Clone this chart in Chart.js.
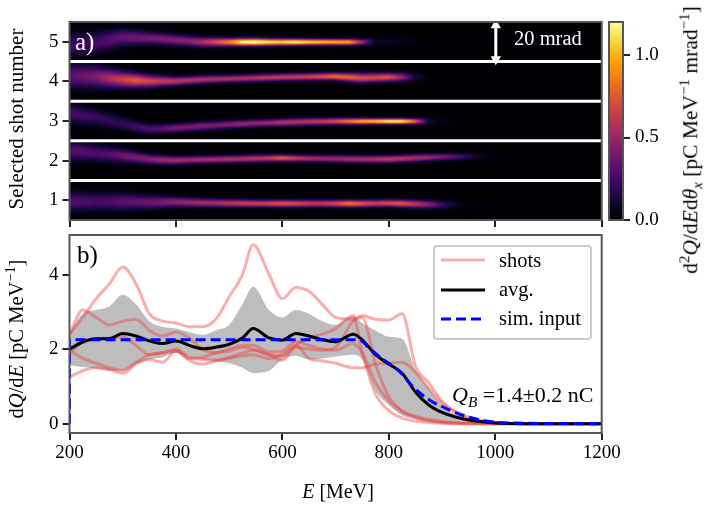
<!DOCTYPE html>
<html>
<head>
<meta charset="utf-8">
<script src="https://cdn.jsdelivr.net/npm/chart.js@4"></script>
<style>
  html, body { margin: 0; padding: 0; background: #fff; }
  #page { position: relative; width: 708px; height: 505px; overflow: hidden; font-family: "Liberation Serif", serif; color: #000; }
  canvas { position: absolute; left: 0; top: 0; }
  .txt { position: absolute; white-space: nowrap; font-size: 20.5px; line-height: 1; }
  .rot { transform: translate(-50%, -50%) rotate(-90deg); }
  sup, sub { font-size: 70%; line-height: 0; }
  #legend { position: absolute; left: 433px; top: 245px; width: 155px; height: 91px; border: 2px solid #ccc; border-radius: 4px; background: rgba(255,255,255,.8); }
  #legend svg { position: absolute; left: 0; top: 0; }
</style>
</head>
<body>
<div id="page">
  <canvas id="heat" width="708" height="505"></canvas>
  <canvas id="cbar" width="708" height="505"></canvas>
  <canvas id="lines" width="708" height="505"></canvas>

  <div class="txt rot" style="left:16px;top:119px;font-size:21px">Selected shot number</div>
  <div class="txt rot" style="left:16px;top:339px;font-size:20.5px">d<i>Q</i>/d<i>E</i> [pC MeV<sup>−1</sup>]</div>
  <div class="txt rot" style="left:691px;top:140px;font-size:21.5px">d<sup>2</sup><i>Q</i>/d<i>E</i>d<i>θ<sub>x</sub></i> [pC MeV<sup>−1</sup> mrad<sup>−1</sup>]</div>
  <div class="txt" style="left:338px;top:481px;transform:translateX(-50%);font-size:20px"><i>E</i> [MeV]</div>
  <div class="txt" style="left:75px;top:29px;font-size:25px;color:#fff">a)</div>
  <div class="txt" style="left:77px;top:242px;font-size:25px">b)</div>
  <div class="txt" style="left:514px;top:28px;font-size:20.5px;color:#fff">20 mrad</div>
  <div class="txt" style="left:452px;top:384px;font-size:22px"><i>Q<sub>B</sub></i> =1.4±0.2 nC</div>

  <div id="legend">
    <svg width="155" height="91">
      <line x1="6" y1="13" x2="50" y2="13" stroke="rgb(240,60,60)" stroke-opacity=".42" stroke-width="3"/>
      <line x1="6" y1="43" x2="50" y2="43" stroke="#000" stroke-width="3"/>
      <line x1="6" y1="72" x2="50" y2="72" stroke="#0000ff" stroke-width="3" stroke-dasharray="10 5"/>
    </svg>
    <div class="txt" style="left:64px;top:3px">shots</div>
    <div class="txt" style="left:64px;top:32px">avg.</div>
    <div class="txt" style="left:64px;top:61px">sim. input</div>
  </div>
</div>

<script>
// tick labels
const energyTicks = [200, 400, 600, 800, 1000, 1200];
const shotTicks = [1, 2, 3, 4, 5];
const chargeTicks = [0, 2, 4];
const cbarTicks = [0, 0.5, 1.0];
const separators = [1.5, 2.5, 3.5, 4.5];

// panel b: spectra
const qE = [200,225,250,275,300,325,350,375,400,425,450,475,500,525,545,575,600,625,650,675,700,733,750,775,800,825,850,875,900,925,950,975,1000,1100,1200];
const shot1 = [2.4,2.85,3.35,3.75,4.2,3.75,2.95,2.75,2.7,2.6,2.6,2.8,3.4,4.0,4.8,4.0,3.35,3.65,3.55,3.2,2.85,2.8,2.9,2.8,2.78,2.95,1.55,1.1,.6,.3,.13,.05,.02,0,0];
const shot2 = [2.4,3.05,2.85,2.65,2.75,2.8,2.5,2.35,2.45,2.3,2.0,1.9,1.95,2.05,2.0,1.85,1.7,2.1,2.3,2.4,2.55,2.9,1.9,.8,.35,.15,.07,.03,.01,0,0,0,0,0,0];
const shot3 = [1.25,1.42,1.5,1.45,1.35,1.6,1.72,1.65,1.95,1.7,1.6,1.68,1.75,1.82,1.85,1.75,1.85,2.1,1.75,1.68,1.62,1.5,1.5,1.6,1.62,1.65,1.38,.95,.55,.33,.18,.09,.04,0,0];
const shot4 = [1.97,1.75,1.62,1.5,1.43,1.65,1.85,1.9,2.0,1.78,1.72,1.7,1.78,1.9,1.97,1.85,1.82,2.05,2.0,1.97,2.05,2.75,2.85,1.6,.72,.35,.2,.12,.06,.03,.01,0,0,0,0];
const shot5 = [1.88,2.2,2.28,2.3,2.33,2.1,1.85,1.9,1.95,1.75,1.78,1.9,2.0,2.1,2.1,1.92,1.95,2.2,2.1,2.0,1.97,2.15,1.9,1.1,.6,.32,.17,.08,.03,.01,0,0,0,0,0];
const shotSeries = [shot1, shot2, shot3, shot4, shot5];
const avg = [2.0,2.19,2.28,2.28,2.42,2.35,2.22,2.15,2.22,2.1,2.01,2.05,2.13,2.3,2.55,2.3,2.24,2.42,2.35,2.25,2.2,2.4,2.25,1.85,1.6,1.35,.85,.5,.3,.18,.1,.05,.02,0,0];
const bandHigh = [2.42,2.95,3.05,3.15,3.46,3.2,2.75,2.6,2.55,2.45,2.38,2.5,2.65,3.2,3.67,3.05,2.85,3.05,2.95,2.75,2.65,2.88,2.7,2.5,2.33,2.28,1.45,.95,.5,.25,.13,.05,.02,0,0];
const bandLow = [1.57,1.52,1.48,1.42,1.42,1.6,1.72,1.78,1.9,1.78,1.72,1.68,1.62,1.5,1.36,1.42,1.72,1.82,1.72,1.75,1.8,1.85,1.72,.88,.5,.22,.12,.05,.02,0,0,0,0,0,0];
const simE = [200,200.01,745,760,783,821,846,877,909,940,975,1020,1200];
const simQ = [0,2.25,2.25,2.07,1.79,1.39,.98,.63,.4,.22,.09,.02,0];

// panel a: the bright ridge of each shot.
// peak is the colour value along the ridge, offset its height above the shot row, spread its half width
const peakE = [200,225,250,275,300,325,350,375,400,425,450,475,500,525,550,575,600,625,650,675,700,725,750,775,800,825,850,875,900,925,950,975,1000];
const shapeE = [200,250,300,350,400,450,500,550,600,650,700,750,800,850,900,950,1000];

const peak1 = [.3,.28,.25,.28,.32,.35,.38,.42,.48,.5,.55,.55,.6,.65,.65,.68,.75,.7,.65,.62,.7,.85,.75,.65,.72,.75,.62,.48,.25,.08,.03,.01,0];
const offset1 = [-.03,-.03,-.03,-.05,-.04,-.06,-.07,-.08,-.08,-.08,-.08,-.08,-.07,-.09,-.11,-.11,-.11];
const spread1 = [.16,.15,.14,.11,.08,.07,.065,.06,.06,.06,.06,.06,.06,.065,.065,.07,.07];

const peak2 = [.3,.3,.28,.3,.38,.42,.45,.52,.55,.52,.55,.55,.58,.55,.6,.62,.75,.65,.55,.52,.5,.55,.55,.58,.62,.6,.55,.5,.42,.32,.18,.07,.02];
const offset2 = [.26,.2,.13,.04,.01,.03,.04,.06,.07,.06,.05,.04,.04,.07,.1,.11,.12];
const spread2 = [.16,.14,.11,.08,.065,.06,.06,.06,.055,.055,.06,.06,.06,.06,.055,.055,.06];

const peak3 = [.25,.25,.22,.2,.2,.25,.28,.32,.42,.4,.42,.42,.45,.5,.48,.52,.58,.58,.6,.62,.7,.85,1.0,1.05,1.2,1.2,.8,.12,.04,.02,0,0,0];
const offset3 = [.2,.1,-.06,-.2,-.17,-.12,-.08,-.05,-.03,-.01,0,0,0,0,0,0,0];
const spread3 = [.15,.14,.11,.08,.07,.07,.065,.06,.06,.06,.055,.05,.045,.045,.07,.09,.09];

const peak4 = [.32,.36,.42,.55,.65,.75,.68,.62,.6,.58,.55,.55,.55,.55,.58,.6,.62,.62,.65,.72,.8,.78,.7,.68,.72,.5,.12,.03,0,0,0,0,0];
const offset4 = [.15,.12,.05,.01,.01,.05,.07,.09,.11,.12,.13,.09,.11,.11,.11,.11,.11];
const spread4 = [.2,.18,.13,.1,.07,.065,.06,.06,.06,.06,.06,.08,.07,.07,.07,.07,.07];

const peak5 = [.25,.24,.25,.3,.35,.38,.4,.42,.44,.47,.55,.72,.88,1.2,1.3,1.15,1.1,1.2,1.1,1.05,1.0,1.0,.55,.07,.07,.05,.03,.01,0,0,0,0,0];
const offset5 = [-.08,-.02,.12,.1,.05,0,0,0,0,0,0,0,.02,.02,0,0,0];
const spread5 = [.2,.18,.14,.1,.09,.08,.065,.06,.055,.05,.05,.05,.1,.1,.1,.1,.1];

const ridges = [
  { shot: 1, peak: peak1, offset: offset1, spread: spread1 },
  { shot: 2, peak: peak2, offset: offset2, spread: spread2 },
  { shot: 3, peak: peak3, offset: offset3, spread: spread3 },
  { shot: 4, peak: peak4, offset: offset4, spread: spread4 },
  { shot: 5, peak: peak5, offset: offset5, spread: spread5 }
];

const inferno = ['#000004','#160b39','#420a68','#6a176e','#932667','#bc3754','#dd513a','#f37819','#fca50a','#f6d746','#fcffa4'];
const cbarMax = 1.2;

function colorAt(v) {
  const t = Math.min(Math.max(v / cbarMax, 0), 1) * (inferno.length - 1);
  const i = Math.min(Math.floor(t), inferno.length - 2);
  const f = t - i;
  const a = parseInt(inferno[i].slice(1), 16), b = parseInt(inferno[i + 1].slice(1), 16);
  const mix = (s) => Math.round(((a >> s) & 255) * (1 - f) + ((b >> s) & 255) * f);
  return `rgb(${mix(16)},${mix(8)},${mix(0)})`;
}

function along(nodes, values, x) {
  if (x >= nodes[nodes.length - 1]) return values[values.length - 1];
  let i = 0;
  while (nodes[i + 1] < x) i++;
  const f = (x - nodes[i]) / (nodes[i + 1] - nodes[i]);
  return values[i] * (1 - f) + values[i + 1] * f;
}

// one cell per screen pixel across each ridge so the image looks like the smooth camera picture
function heatCells() {
  const points = [], colors = [];
  const dE = 1000 / 532.2, dY = 1 / 39.6;
  for (const r of ridges) {
    for (let e = 200; e <= 1040; e += dE) {
      const p = along(peakE, r.peak, e);
      if (p < 0.01) continue;
      const c = r.shot + along(shapeE, r.offset, e);
      const s = along(shapeE, r.spread, e);
      for (let y = r.shot - 0.5; y <= r.shot + 0.5; y += dY) {
        const v = p * Math.exp(-0.5 * ((y - c) / s) ** 2);
        if (v < 0.012) continue;
        points.push({ x: e, y });
        colors.push(colorAt(v));
      }
    }
  }
  return { points, colors };
}

function frame(color) {
  return {
    id: 'frame',
    afterDraw(chart) {
      const a = chart.chartArea, ctx = chart.ctx;
      ctx.save();
      ctx.strokeStyle = color;
      ctx.lineWidth = 2;
      ctx.strokeRect(a.left, a.top, a.right - a.left, a.bottom - a.top);
      ctx.restore();
    }
  };
}

const blackPlot = {
  id: 'blackPlot',
  beforeDraw(chart) {
    const a = chart.chartArea;
    chart.ctx.fillStyle = inferno[0];
    chart.ctx.fillRect(a.left, a.top, a.right - a.left, a.bottom - a.top);
  }
};

const tickFont = { family: 'Liberation Serif', size: 19 };
const axisGrid = { drawOnChartArea: false, color: '#222', lineWidth: 2, tickLength: 7, tickColor: '#222' };
const useTicks = (list) => (scale) => { scale.ticks = list.map((value) => ({ value })); };

function energyAxis(showLabels, height) {
  return {
    type: 'linear', min: 200, max: 1200,
    grid: axisGrid,
    border: { display: false },
    afterBuildTicks: useTicks(energyTicks),
    afterFit: (s) => { s.height = height; },
    ticks: { color: '#000', font: tickFont, padding: 2, maxRotation: 0, autoSkip: false, callback: (v) => showLabels ? v : '' }
  };
}

function baseOptions(padding, scales) {
  return {
    responsive: false,
    animation: false,
    events: [],
    layout: { padding },
    plugins: { legend: { display: false }, tooltip: { enabled: false } },
    scales
  };
}

function setupHeat() {
  const cells = heatCells();
  const datasets = [];
  separators.forEach((y) => {
    datasets.push({
      data: [{ x: 200, y }, { x: 1200, y }], showLine: true, borderColor: '#fff', borderWidth: 3,
      pointRadius: 0, order: 1
    });
  });
  datasets.push({
    data: [{ x: 1001, y: 5.42 }, { x: 1001, y: 4.56 }], showLine: true, borderColor: '#fff', borderWidth: 3,
    pointStyle: 'triangle', pointRadius: 6, pointRotation: [0, 180], pointBackgroundColor: '#fff', pointBorderWidth: 0, order: 1
  });
  datasets.push({
    data: cells.points, showLine: false, pointStyle: 'rect', pointRadius: 1.2, pointBorderWidth: 0,
    pointBackgroundColor: cells.colors, order: 10
  });
  new Chart(document.getElementById('heat'), {
    type: 'scatter',
    data: { datasets },
    options: baseOptions({ left: 0, right: 106.3, top: 22, bottom: 0 }, {
      x: energyAxis(false, 285),
      y: {
        type: 'linear', min: 0.5, max: 5.5,
        grid: axisGrid,
        border: { display: false },
        afterBuildTicks: useTicks(shotTicks),
        afterFit: (s) => { s.width = 69.5; },
        ticks: { color: '#000', font: tickFont, padding: 4 }
      }
    }),
    plugins: [blackPlot, frame('#555')]
  });
}

function setupColorbar() {
  const datasets = [];
  for (let v = 0; v < cbarMax; v += 0.005) {
    datasets.push({ data: [[v, Math.min(v + 0.012, cbarMax)]], backgroundColor: colorAt(v + 0.0025), borderWidth: 0, grouped: false, barPercentage: 1, categoryPercentage: 1 });
  }
  new Chart(document.getElementById('cbar'), {
    type: 'bar',
    data: { labels: [''], datasets },
    options: baseOptions({ left: 609, right: 0, top: 22, bottom: 285 }, {
      x: { display: false },
      y: {
        position: 'right', min: 0, max: cbarMax,
        grid: axisGrid,
        border: { display: false },
        afterBuildTicks: useTicks(cbarTicks),
        afterFit: (s) => { s.width = 85; },
        ticks: { color: '#000', font: tickFont, padding: 5, callback: (v) => v.toFixed(1) }
      }
    }),
    plugins: [frame('#555')]
  });
}

function setupLines() {
  const pairs = (ys, xs = qE) => ys.map((y, i) => ({ x: xs[i], y }));
  const smooth = { showLine: true, pointRadius: 0, cubicInterpolationMode: 'monotone' };
  const datasets = [];
  datasets.push({ ...smooth, data: pairs(simQ, simE), borderColor: '#0000ff', borderWidth: 3, borderDash: [10, 5], order: 1 });
  datasets.push({ ...smooth, data: pairs(avg), borderColor: '#000', borderWidth: 3, order: 2 });
  shotSeries.forEach((s) => {
    datasets.push({ ...smooth, data: pairs(s), borderColor: 'rgba(240,60,60,.42)', borderWidth: 3, order: 3 });
  });
  datasets.push({ ...smooth, data: pairs(bandHigh), borderWidth: 0, fill: '+1', backgroundColor: '#bdbdbd', order: 4 });
  datasets.push({ ...smooth, data: pairs(bandLow), borderWidth: 0, order: 4 });
  new Chart(document.getElementById('lines'), {
    type: 'scatter',
    data: { datasets },
    options: baseOptions({ left: 0, right: 106.3, top: 235, bottom: 0 }, {
      x: energyAxis(true, 72),
      y: {
        type: 'linear', min: -0.25, max: 5.06,
        grid: axisGrid,
        border: { display: false },
        afterBuildTicks: useTicks(chargeTicks),
        afterFit: (s) => { s.width = 69.5; },
        ticks: { color: '#000', font: tickFont, padding: 4 }
      }
    }),
    plugins: [frame('#555')]
  });
}

setupHeat();
setupColorbar();
setupLines();
</script>
</body>
</html>
